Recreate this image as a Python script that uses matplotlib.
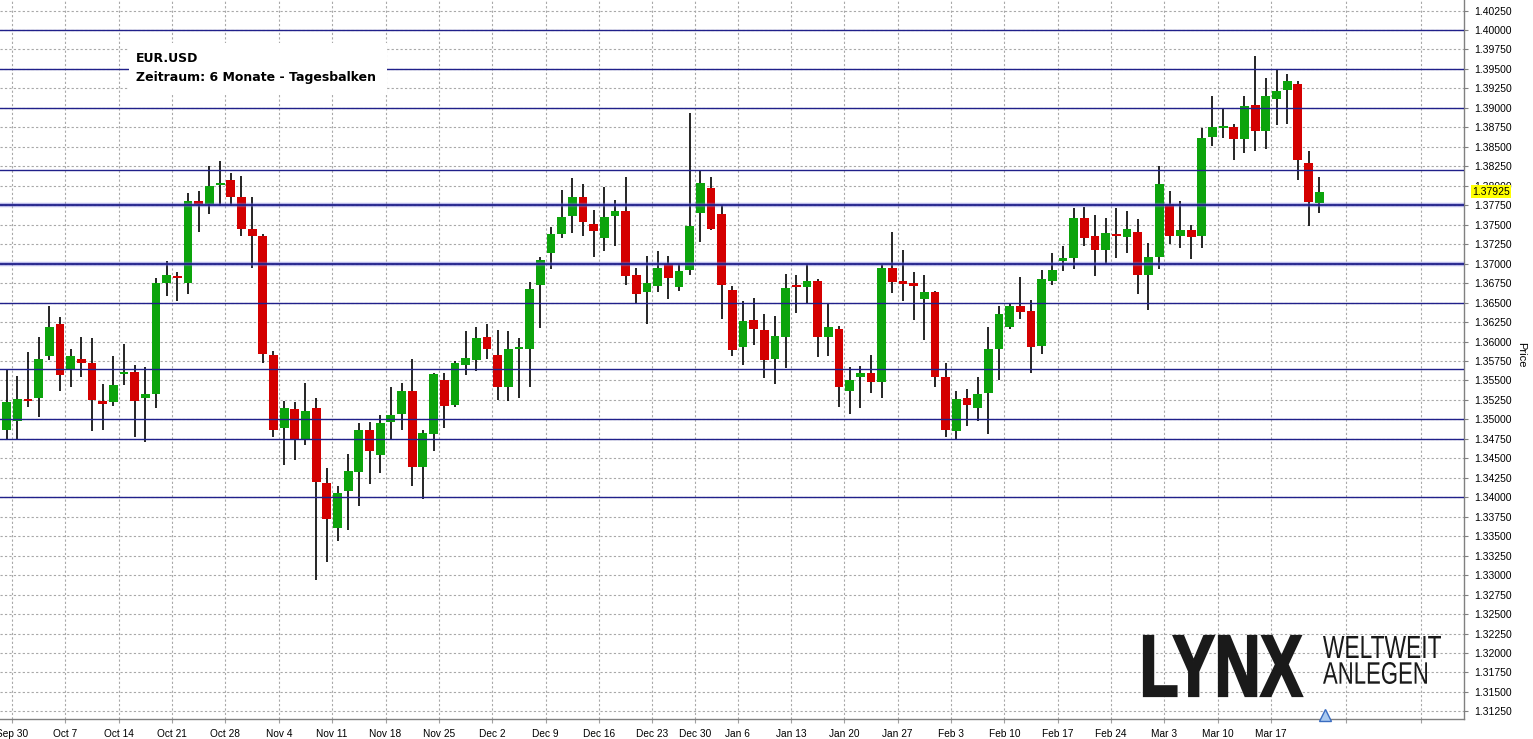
import numpy as np
import pandas as pd
import matplotlib
matplotlib.use("Agg")
import matplotlib.pyplot as plt
from matplotlib.textpath import TextPath
from matplotlib.patches import PathPatch, Rectangle
from matplotlib.font_manager import FontProperties
from matplotlib.transforms import Affine2D, blended_transform_factory

# EUR.USD daily bars, 27 Sep 2013 - 21 Mar 2014 (no bars on Dec 25 / Jan 1)
holidays = ["2013-12-25", "2014-01-01"]
future_weeks = ["2014-03-24", "2014-03-31"]

opens = [1.3487, 1.3498, 1.3526, 1.3527, 1.3582, 1.3622, 1.3564, 1.3578, 1.3573, 1.3524,
         1.3522, 1.3558, 1.3561, 1.3528, 1.3532, 1.3675, 1.3684, 1.3675, 1.3781, 1.3777,
         1.3801, 1.3807, 1.3786, 1.3745, 1.3736, 1.3583, 1.3489, 1.3513, 1.3473, 1.3514,
         1.3418, 1.3361, 1.3408, 1.3433, 1.3487, 1.3454, 1.3496, 1.3507, 1.3536, 1.3439,
         1.3481, 1.3550, 1.3518, 1.3570, 1.3576, 1.3606, 1.3583, 1.3541, 1.3590, 1.3591,
         1.3672, 1.3713, 1.3738, 1.3761, 1.3786, 1.3751, 1.3733, 1.3761, 1.3768, 1.3685,
         1.3663, 1.3671, 1.3699, 1.3670, 1.3692, 1.3765, 1.3797, 1.3764, 1.3666, 1.3593,
         1.3628, 1.3615, 1.3578, 1.3606, 1.3672, 1.3670, 1.3678, 1.3606, 1.3616, 1.3536,
         1.3555, 1.3560, 1.3548, 1.3694, 1.3678, 1.3675, 1.3655, 1.3663, 1.3555, 1.3485,
         1.3528, 1.3514, 1.3534, 1.3591, 1.3618, 1.3645, 1.3639, 1.3594, 1.3678, 1.3704,
         1.3707, 1.3759, 1.3736, 1.3718, 1.3737, 1.3734, 1.3741, 1.3685, 1.3708, 1.3777,
         1.3735, 1.3743, 1.3736, 1.3862, 1.3874, 1.3876, 1.3860, 1.3904, 1.3870, 1.3912,
         1.3923, 1.3931, 1.3829, 1.3778]
highs = [1.3564, 1.3556, 1.3587, 1.3606, 1.3646, 1.3631, 1.3591, 1.3606, 1.3604, 1.3546,
         1.3581, 1.3597, 1.3570, 1.3567, 1.3681, 1.3704, 1.3689, 1.3791, 1.3793, 1.3825,
         1.3832, 1.3817, 1.3813, 1.3785, 1.3738, 1.3588, 1.3524, 1.3522, 1.3547, 1.3528,
         1.3437, 1.3415, 1.3456, 1.3495, 1.3497, 1.3505, 1.3542, 1.3547, 1.3578, 1.3486,
         1.3559, 1.3560, 1.3575, 1.3613, 1.3618, 1.3622, 1.3615, 1.3613, 1.3605, 1.3677,
         1.3708, 1.3747, 1.3794, 1.3810, 1.3802, 1.3769, 1.3799, 1.3782, 1.3811, 1.3694,
         1.3710, 1.3716, 1.3710, 1.3700, 1.3893, 1.3819, 1.3811, 1.3775, 1.3671, 1.3652,
         1.3656, 1.3635, 1.3633, 1.3687, 1.3685, 1.3699, 1.3680, 1.3649, 1.3620, 1.3567,
         1.3569, 1.3583, 1.3698, 1.3740, 1.3717, 1.3689, 1.3685, 1.3665, 1.3573, 1.3536,
         1.3539, 1.3555, 1.3618, 1.3645, 1.3650, 1.3683, 1.3653, 1.3692, 1.3714, 1.3723,
         1.3771, 1.3773, 1.3762, 1.3758, 1.3772, 1.3767, 1.3757, 1.3726, 1.3825, 1.3793,
         1.3781, 1.3749, 1.3874, 1.3915, 1.3898, 1.3879, 1.3915, 1.3967, 1.3938, 1.3948,
         1.3943, 1.3934, 1.3844, 1.3811]
lows = [1.3474, 1.3475, 1.3516, 1.3503, 1.3576, 1.3536, 1.3541, 1.3555, 1.3485, 1.3486,
        1.3517, 1.3544, 1.3478, 1.3471, 1.3514, 1.3658, 1.3652, 1.3661, 1.3740, 1.3764,
        1.3774, 1.3774, 1.3735, 1.3694, 1.3573, 1.3478, 1.3441, 1.3448, 1.3467, 1.3294,
        1.3317, 1.3344, 1.3358, 1.3389, 1.3417, 1.3431, 1.3473, 1.3486, 1.3414, 1.3398,
        1.3460, 1.3489, 1.3516, 1.3557, 1.3562, 1.3578, 1.3525, 1.3523, 1.3527, 1.3541,
        1.3617, 1.3693, 1.3733, 1.3739, 1.3736, 1.3708, 1.3716, 1.3722, 1.3673, 1.3648,
        1.3623, 1.3663, 1.3654, 1.3665, 1.3686, 1.3728, 1.3743, 1.3629, 1.3581, 1.3570,
        1.3595, 1.3553, 1.3546, 1.3566, 1.3636, 1.3648, 1.3580, 1.3582, 1.3516, 1.3507,
        1.3514, 1.3534, 1.3528, 1.3662, 1.3652, 1.3627, 1.3602, 1.3541, 1.3477, 1.3475,
        1.3491, 1.3498, 1.3481, 1.3550, 1.3616, 1.3629, 1.3560, 1.3584, 1.3672, 1.3691,
        1.3693, 1.3722, 1.3684, 1.3700, 1.3707, 1.3713, 1.3661, 1.3641, 1.3693, 1.3725,
        1.3720, 1.3706, 1.3720, 1.3851, 1.3861, 1.3833, 1.3842, 1.3844, 1.3847, 1.3878,
        1.3879, 1.3808, 1.3748, 1.3765]
closes = [1.3522, 1.3526, 1.3523, 1.3578, 1.3618, 1.3557, 1.3581, 1.3573, 1.3525, 1.3520,
          1.3544, 1.3561, 1.3523, 1.3533, 1.3675, 1.3686, 1.3681, 1.3780, 1.3776, 1.3800,
          1.3803, 1.3785, 1.3745, 1.3735, 1.3584, 1.3487, 1.3514, 1.3475, 1.3511, 1.3419,
          1.3372, 1.3406, 1.3434, 1.3487, 1.3459, 1.3495, 1.3505, 1.3537, 1.3439, 1.3482,
          1.3558, 1.3517, 1.3572, 1.3579, 1.3605, 1.3591, 1.3541, 1.3590, 1.3592, 1.3667,
          1.3705, 1.3738, 1.3760, 1.3786, 1.3753, 1.3742, 1.3760, 1.3768, 1.3684, 1.3661,
          1.3675, 1.3695, 1.3681, 1.3691, 1.3748, 1.3803, 1.3745, 1.3673, 1.3589, 1.3626,
          1.3616, 1.3576, 1.3607, 1.3669, 1.3670, 1.3678, 1.3606, 1.3619, 1.3541, 1.3551,
          1.3560, 1.3548, 1.3695, 1.3677, 1.3674, 1.3671, 1.3663, 1.3554, 1.3487, 1.3526,
          1.3518, 1.3532, 1.3590, 1.3635, 1.3645, 1.3638, 1.3593, 1.3680, 1.3692, 1.3707,
          1.3758, 1.3733, 1.3718, 1.3739, 1.3735, 1.3745, 1.3686, 1.3709, 1.3802, 1.3735,
          1.3743, 1.3734, 1.3861, 1.3876, 1.3876, 1.3860, 1.3903, 1.3870, 1.3915, 1.3922,
          1.3934, 1.3833, 1.3779, 1.37925]

# horizontal support / resistance lines drawn by hand on the chart
levels = [1.4000, 1.3950, 1.3900, 1.3820, 1.3650, 1.3565, 1.3500, 1.3475, 1.3400]
strong_levels = [1.3775, 1.3700]

last_price = 1.37925
title_lines = ["EUR.USD", "Zeitraum: 6 Monate - Tagesbalken"]

green = "#0ca40c"
red = "#d40000"
blue = "#20208a"
grid_c = "#a8a8a8"

dates = pd.bdate_range("2013-09-27", "2014-03-21")
dates = dates[~dates.isin(pd.to_datetime(holidays))]
x = np.arange(len(dates))
o = np.array(opens); h = np.array(highs); l = np.array(lows); c = np.array(closes)

W, H = 1533, 739
fig = plt.figure(figsize=(W / 100, H / 100), dpi=100)
ax = fig.add_axes([0, 1 - 719.3 / H, 1464.3 / W, 719.3 / H])

# weekly grid: Mondays of the data, then calendar spacing for the empty future part
week_pos, week_lab = [], []
for i, d in enumerate(dates):
    if d.weekday() == 0:
        week_pos.append(i - 0.5)
        week_lab.append(f"{d:%b} {d.day}")
for d in pd.to_datetime(future_weeks):
    week_pos.append(x[-1] + (d - dates[-1]).days - 0.5)
    week_lab.append("")

yt = np.arange(1.3125, 1.40251, 0.0025)
for v in yt:
    ax.axhline(v, color=grid_c, lw=0.8, dashes=(2, 2), zorder=1)
for v in week_pos:
    ax.axvline(v, color=grid_c, lw=0.8, dashes=(2, 2), zorder=1)

# candles
up = c >= o
cols = np.where(up, green, red)
ax.vlines(x, l, h, color="black", lw=1.2, zorder=3)
body_lo = np.minimum(o, c)
body_h = np.maximum(np.abs(c - o), 0.00025)
ax.bar(x, body_h, bottom=body_lo, width=0.82, color=cols, edgecolor="none", zorder=4)

for v in levels:
    ax.axhline(v, color=blue, lw=1.0, zorder=5)
for v in strong_levels:
    ax.axhline(v, color="#6a6ad0", lw=3.2, alpha=0.45, zorder=5)
    ax.axhline(v, color=blue, lw=1.3, zorder=5)

ax.set_xlim(-0.63, 136.6)
ax.set_ylim(1.31149, 1.40385)

ax.yaxis.tick_right()
ax.set_yticks(yt, [f"{v:.5f}" for v in yt])
ax.set_xticks(week_pos, week_lab)
ax.tick_params(axis="y", length=3, width=0.8, color="#808080", pad=4,
               labelsize=7.5, labelcolor="black")
ax.tick_params(axis="x", length=3, width=0.8, color="#a0a0a0", pad=4,
               labelsize=7.3, labelcolor="black")
for t in ax.get_xticklabels() + ax.get_yticklabels():
    t.set_fontfamily(["Liberation Sans", "DejaVu Sans"])

for s in ["left", "top"]:
    ax.spines[s].set_visible(False)
for s in ["right", "bottom"]:
    ax.spines[s].set_color("#808080")
    ax.spines[s].set_linewidth(1.0)

# last price marker on the price scale
tr = blended_transform_factory(ax.transAxes, ax.transData)
ax.text(1.0055, last_price, f"{last_price:.5f}", transform=tr, ha="left", va="center",
        fontsize=7.5, family=["Liberation Sans", "DejaVu Sans"], zorder=10, clip_on=False,
        bbox=dict(boxstyle="square,pad=0.12", fc="#ffff00", ec="none"))

# small blue triangle at the end of the data
trx = blended_transform_factory(ax.transData, ax.transAxes)
ax.plot([x[-1] + 0.5], [0.006], marker="^", ms=8, mfc="#a9c9ef", mec="#3a6cc0",
        mew=1.0, transform=trx, clip_on=False, zorder=10)

fig.text(1521 / W, 1 - 355 / H, "Price", rotation=270, ha="center", va="center",
         fontsize=8, family=["Liberation Sans", "DejaVu Sans"])

# title box (white panel hiding the grid behind the two lines)
fig.patches.append(Rectangle((129 / W, 1 - 93 / H), 258 / W, 50 / H,
                             transform=fig.transFigure, fc="white", ec="none", zorder=2))
fig.text(136 / W, 1 - 58 / H, title_lines[0], ha="left", va="center", fontsize=9,
         fontweight="bold", family="DejaVu Sans", zorder=3)
fig.text(136 / W, 1 - 77 / H, title_lines[1], ha="left", va="center", fontsize=9,
         fontweight="bold", family="DejaVu Sans", zorder=3)


def logo_text(s, x0, y0, x1, y1, weight, lw):
    # text path stretched to a pixel box (image coords, y downwards)
    fp = FontProperties(family=["Liberation Sans Narrow", "Liberation Sans"], weight=weight)
    p = TextPath((0, 0), s, prop=fp, size=1)
    e = p.get_extents()
    sx = (x1 - x0) / e.width
    sy = (y1 - y0) / e.height
    t = (Affine2D().translate(-e.x0, -e.y0).scale(sx, sy)
         .translate(x0, H - y1).scale(1 / W, 1 / H) + fig.transFigure)
    fig.patches.append(PathPatch(p, transform=t, fc="#1a1a1a", ec="#1a1a1a",
                                 lw=lw, zorder=9))


logo_text("LYNX", 1144, 636, 1302, 696, "bold", 1.6)
logo_text("WELTWEIT", 1323, 636, 1441, 658, "normal", 0)
logo_text("ANLEGEN", 1323, 662, 1427, 684, "normal", 0)

fig.savefig("out.png", dpi=100)
